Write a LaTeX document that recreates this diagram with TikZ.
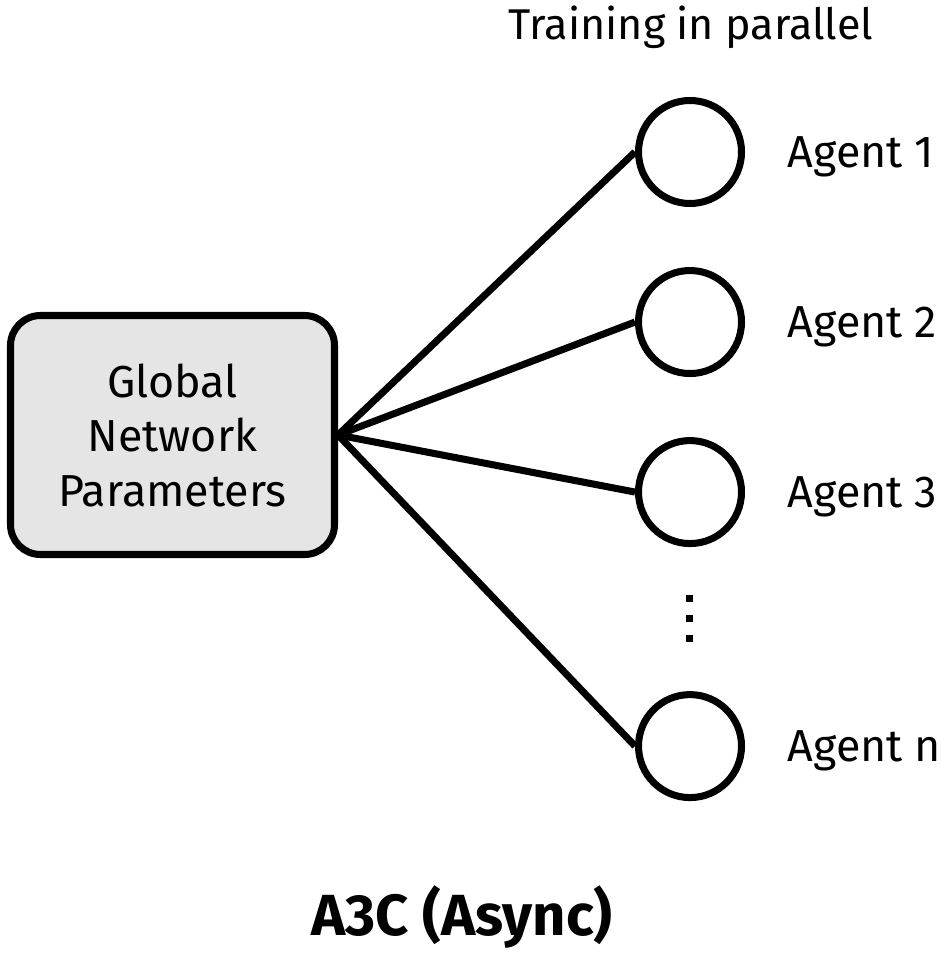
\documentclass[tikz,border=0pt]{standalone}
\usepackage{fontspec}
\setmainfont{Fira Sans}
\usetikzlibrary{positioning}
\tikzstyle{globalbox} = [draw, rectangle, rounded corners=0.6cm, fill=black!10, line width=4pt, minimum width=6.48cm, minimum height=4.78cm, align=center]
\tikzstyle{agent} = [draw, circle, line width=4pt, minimum size=2.06cm, inner sep=0pt]
\tikzstyle{agentlbl} = [inner sep=0pt, text depth=0pt]
\tikzstyle{dotsq} = [fill, rectangle, minimum size=0.14cm, inner sep=0pt]
\tikzstyle{link} = [line width=4pt]

\begin{document}
\begin{tikzpicture}[font=\fontsize{25.5}{31}\selectfont]
    \useasboundingbox (0,0) rectangle (18.9,-19.06);
    % Nodes
    \node[globalbox] (G) at (3.45,-8.7) {Global\\Network\\Parameters};
    \node[agent] (A1) at (13.8,-3.04) {};
    \node[agent, below=1.2cm of A1] (A2) {};
    \node[agent, below=1.2cm of A2] (A3) {};
    \node[agent, below=2.88cm of A3] (An) {};

    % Dots
    \node[dotsq] (D1) at (13.78,-11.96) {};
    \node[dotsq, below=0.25cm of D1] (D2) {};
    \node[dotsq, below=0.25cm of D2] (D3) {};

    % Labels
    \node[agentlbl, right=0.85cm of A1] (L1) {Agent 1};
    \node[agentlbl, right=0.85cm of A2] (L2) {Agent 2};
    \node[agentlbl, right=0.85cm of A3] (L3) {Agent 3};
    \node[agentlbl, right=0.85cm of An] (Ln) {Agent n};
    \node[anchor=base, font=\fontsize{24.5}{30}\selectfont] (T) at (13.82,-0.8) {Training in parallel};
    \node[anchor=base, font=\fontsize{33}{40}\selectfont\bfseries] (C) at (9.24,-18.7) {A3C (Async)};

    % Edges
    \draw[link] (G.east) -- (A1.west);
    \draw[link] (G.east) -- (A2.west);
    \draw[link] (G.east) -- (A3.west);
    \draw[link] (G.east) -- (An.west);
\end{tikzpicture}
\end{document}
